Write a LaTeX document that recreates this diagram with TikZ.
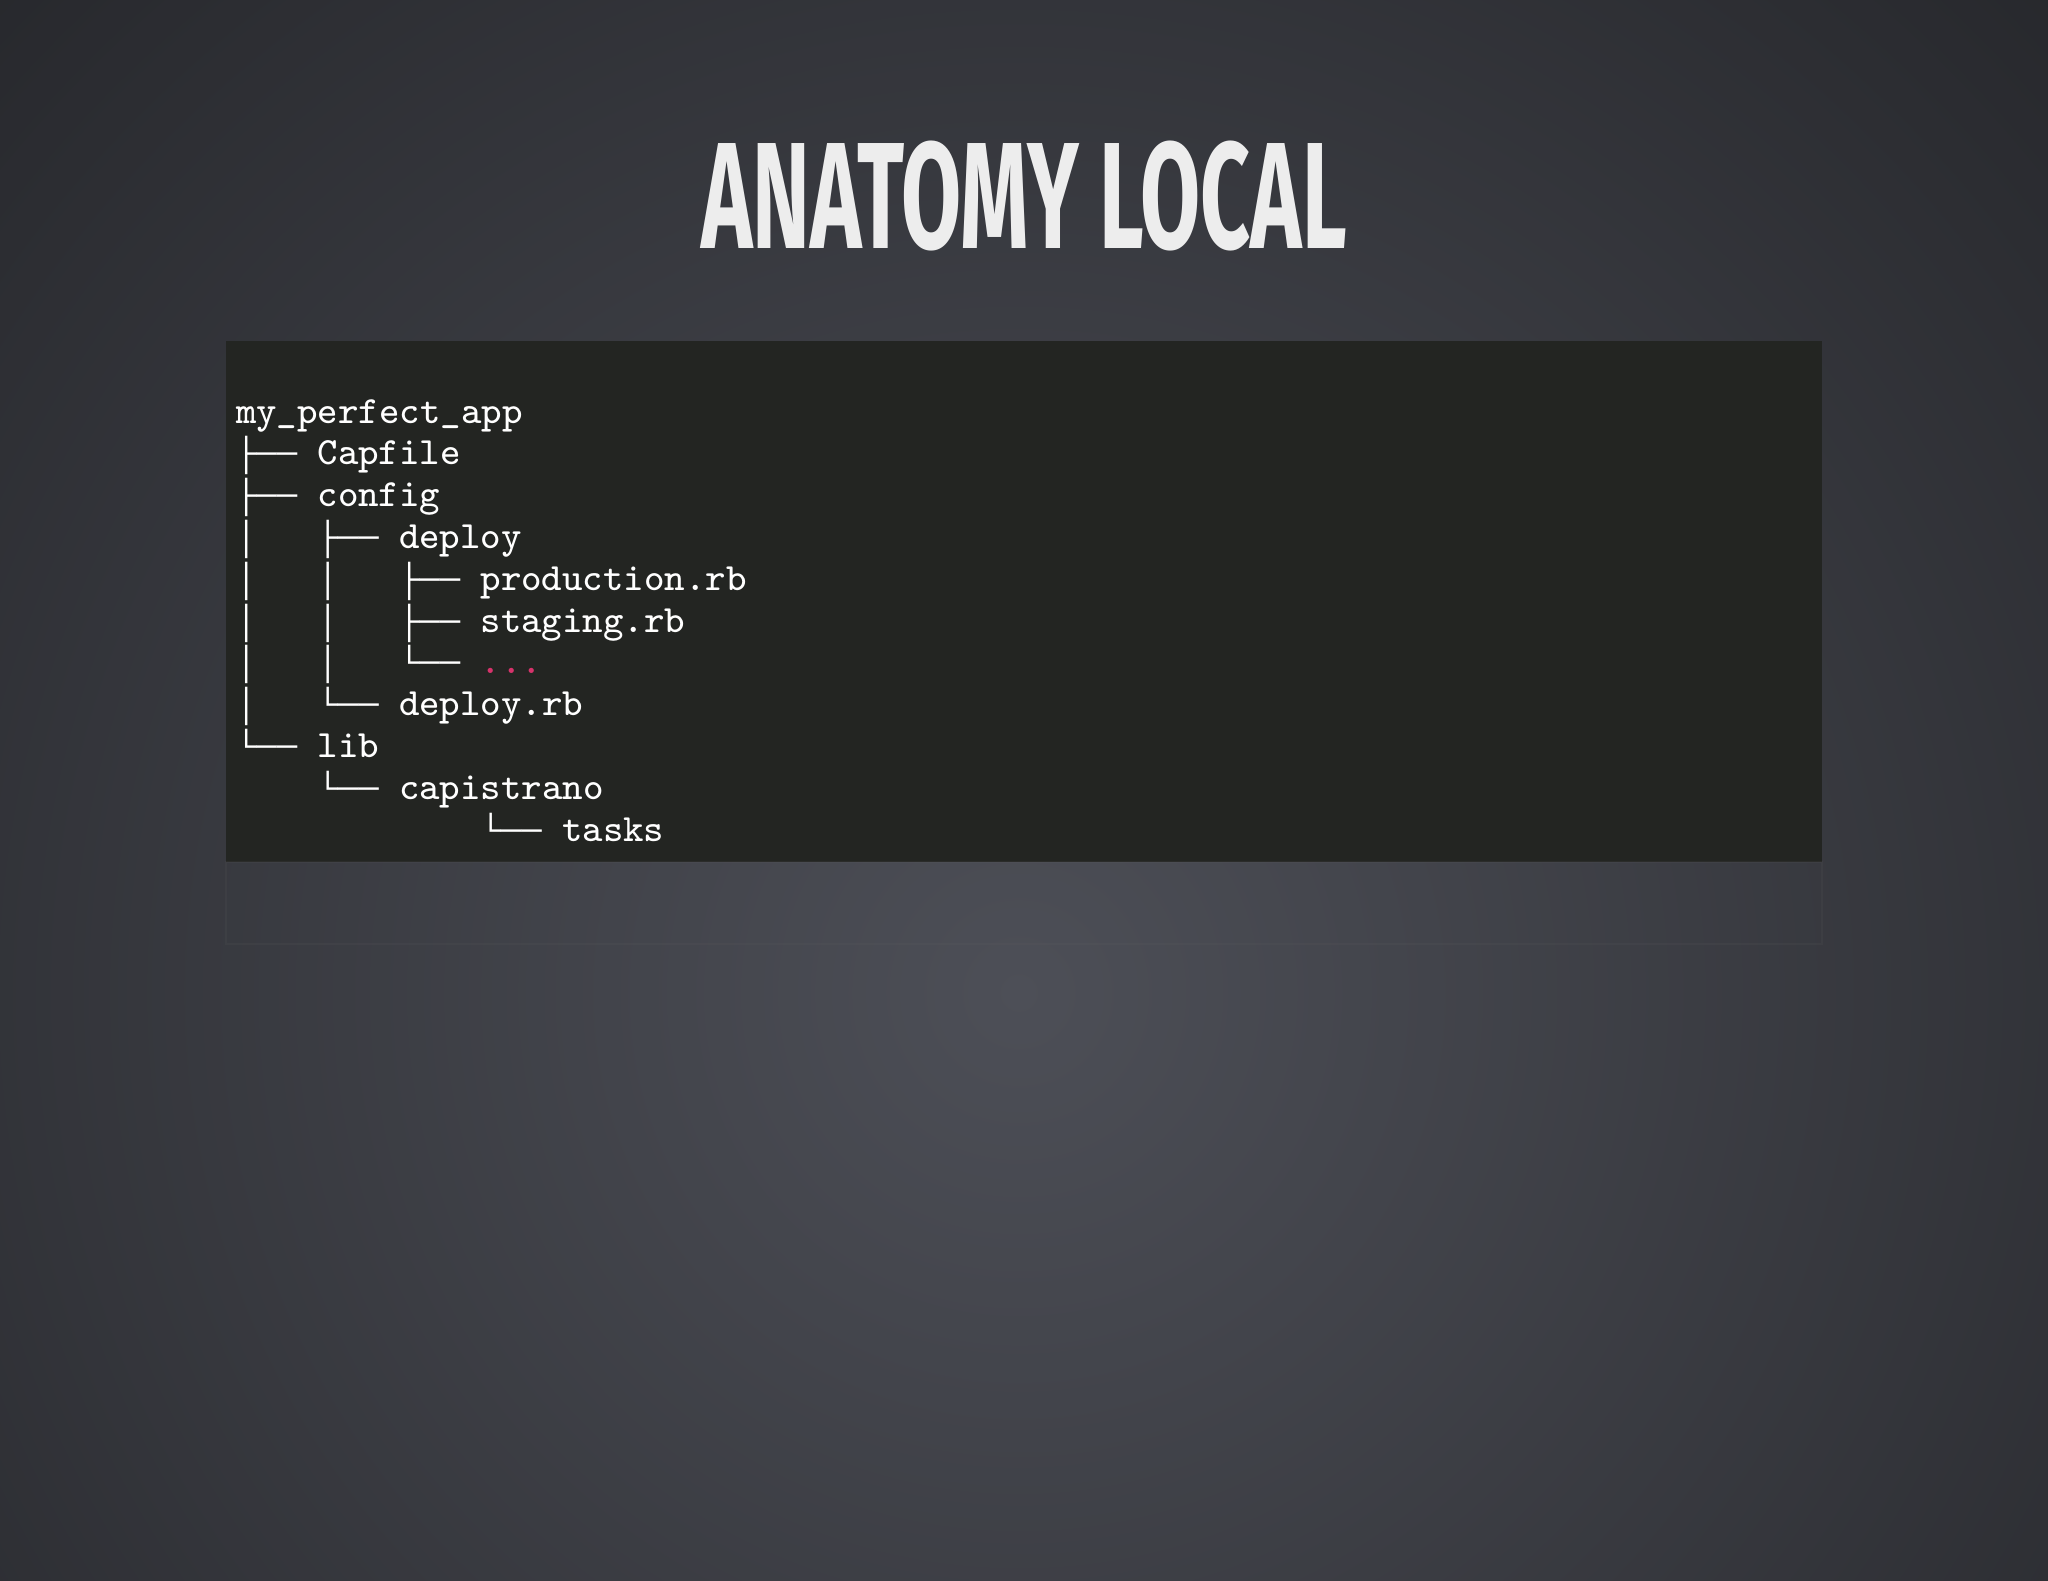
\documentclass[tikz,border=0pt]{standalone}
\usepackage{fontspec}
\newfontfamily\treefont{Liberation Mono}
\newfontfamily\namefont{Latin Modern Mono}
\newfontfamily\titlefont{Fira Sans}
\begin{document}
\begin{tikzpicture}[x=1cm,y=1cm,
  code/.style={font=\namefont\fontsize{8.4pt}{9pt}\selectfont,text=white,inner sep=0pt,anchor=base west},
  tree/.style={font=\treefont\fontsize{7.4pt}{8pt}\selectfont,text=white,inner sep=0pt,anchor=base west},
  pink/.style={code,text=dotpink}]
\definecolor{bgin}{HTML}{4D4F57}
\definecolor{bgout}{HTML}{222327}
\definecolor{codebg}{HTML}{232522}
\definecolor{dotpink}{HTML}{D6336B}
\useasboundingbox (0,0) rectangle (15.68,-12.10);
\begin{scope}
\clip (0,0) rectangle (15.68,-12.10);
\shade[inner color=bgin,outer color=bgout] (7.8,-7.6) circle (12.5);
\end{scope}
\fill[codebg] (1.73,-2.61) rectangle (13.95,-6.60);
\draw[black!60,opacity=0.12] (1.73,-6.60) rectangle (13.95,-7.23);
\node[font=\titlefont\bfseries\fontsize{33pt}{36pt}\selectfont,text=white!93!black,xscale=0.575,inner sep=0pt] (title) at (7.84,-1.50) {ANATOMY LOCAL};
\def\cw{0.156}
\def\rowy#1{-3.24-0.32*#1}
\node[code] (r0) at (1.80,{\rowy{0}}) {my\_perfect\_app};
\node[tree] (t1) at (1.80,{\rowy{1}}) {├──};
\node[code] (n1) at ({1.80+4*\cw},{\rowy{1}}) {Capfile};
\node[tree] (t2) at (1.80,{\rowy{2}}) {├──};
\node[code] (n2) at ({1.80+4*\cw},{\rowy{2}}) {config};
\node[tree] (t3a) at (1.80,{\rowy{3}}) {│};
\node[tree] (t3) at ({1.80+4*\cw},{\rowy{3}}) {├──};
\node[code] (n3) at ({1.80+8*\cw},{\rowy{3}}) {deploy};
\node[tree] (t4a) at (1.80,{\rowy{4}}) {│};
\node[tree] (t4b) at ({1.80+4*\cw},{\rowy{4}}) {│};
\node[tree] (t4) at ({1.80+8*\cw},{\rowy{4}}) {├──};
\node[code] (n4) at ({1.80+12*\cw},{\rowy{4}}) {production.rb};
\node[tree] (t5a) at (1.80,{\rowy{5}}) {│};
\node[tree] (t5b) at ({1.80+4*\cw},{\rowy{5}}) {│};
\node[tree] (t5) at ({1.80+8*\cw},{\rowy{5}}) {├──};
\node[code] (n5) at ({1.80+12*\cw},{\rowy{5}}) {staging.rb};
\node[tree] (t6a) at (1.80,{\rowy{6}}) {│};
\node[tree] (t6b) at ({1.80+4*\cw},{\rowy{6}}) {│};
\node[tree] (t6) at ({1.80+8*\cw},{\rowy{6}}) {└──};
\node[pink] (n6) at ({1.80+12*\cw},{\rowy{6}}) {...};
\node[tree] (t7a) at (1.80,{\rowy{7}}) {│};
\node[tree] (t7) at ({1.80+4*\cw},{\rowy{7}}) {└──};
\node[code] (n7) at ({1.80+8*\cw},{\rowy{7}}) {deploy.rb};
\node[tree] (t8) at (1.80,{\rowy{8}}) {└──};
\node[code] (n8) at ({1.80+4*\cw},{\rowy{8}}) {lib};
\node[tree] (t9) at ({1.80+4*\cw},{\rowy{9}}) {└──};
\node[code] (n9) at ({1.80+8*\cw},{\rowy{9}}) {capistrano};
\node[tree] (t10) at ({1.80+12*\cw},{\rowy{10}}) {└──};
\node[code] (n10) at ({1.80+16*\cw},{\rowy{10}}) {tasks};
\end{tikzpicture}
\end{document}
